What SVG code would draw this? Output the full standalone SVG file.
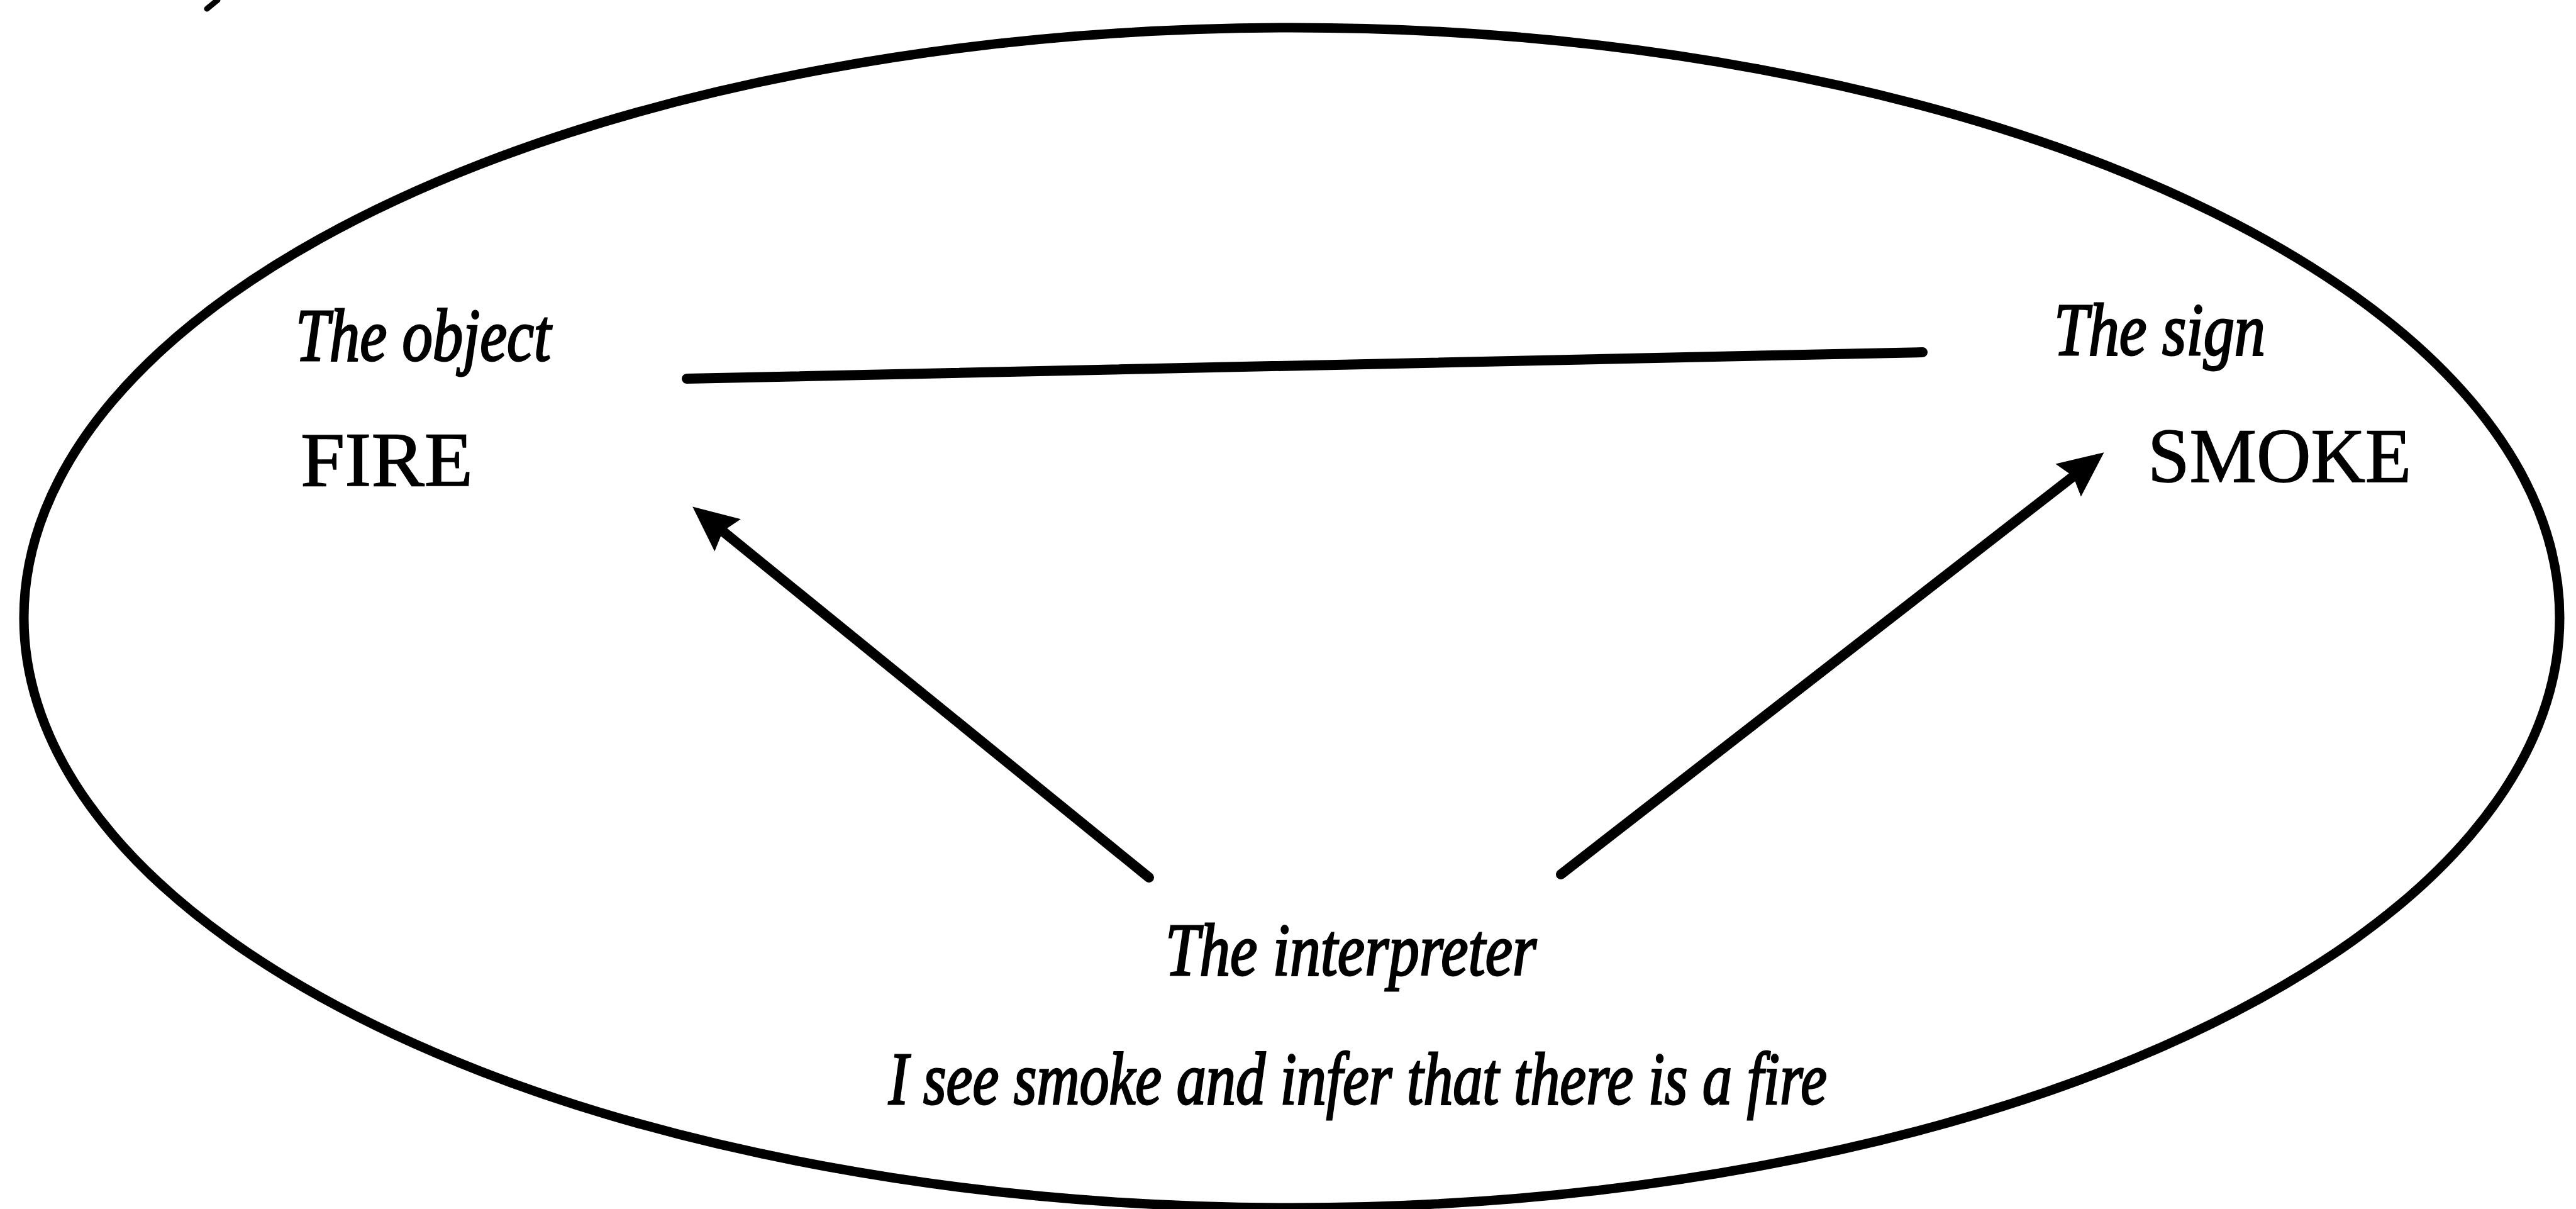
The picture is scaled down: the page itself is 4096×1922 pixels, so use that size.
<svg xmlns="http://www.w3.org/2000/svg" width="4096" height="1922" viewBox="0 0 4096 1922">
<style>
.ital{font-family:"Liberation Serif","Times New Roman",serif;font-style:italic;font-size:118px;fill:#000;stroke:#000;stroke-width:3}
.rom{font-family:"Liberation Serif","Times New Roman",serif;font-size:122px;fill:#000;stroke:#000;stroke-width:1.5}
.conn{stroke:#000;stroke-width:16;fill:none}
</style>
<defs>
<marker id="ah" markerUnits="userSpaceOnUse" markerWidth="80" markerHeight="72" viewBox="-25 -36 80 72" refX="0" refY="0" orient="auto">
<path d="M50,0 L-22,-33 L-12,0 L-22,33 Z" fill="#000"/>
</marker>
</defs>
<rect width="4096" height="1922" fill="#fff"/>
<g id="fragment"><path d="M346,0 L329,14" stroke="#000" stroke-width="9" stroke-linecap="round" fill="none"/></g>
<g id="frame"><ellipse cx="2054" cy="982" rx="2016" ry="938" fill="none" stroke="#000" stroke-width="15"/></g>
<g id="connectors">
<path class="conn" d="M1092,602 L3057,560" stroke-linecap="round"/>
<path class="conn" d="M1827,1395 L1140,837" stroke-linecap="round" marker-end="url(#ah)"/>
<path class="conn" d="M2482,1390 L3306,750" stroke-linecap="round" marker-end="url(#ah)"/>
</g>
<g id="object">
<text class="ital" x="470" y="573" textLength="406" lengthAdjust="spacingAndGlyphs">The object</text>
<text class="rom" x="478" y="772" textLength="274" lengthAdjust="spacingAndGlyphs">FIRE</text>
</g>
<g id="sign">
<text class="ital" x="3266" y="564" textLength="336" lengthAdjust="spacingAndGlyphs">The sign</text>
<text class="rom" x="3415" y="766" textLength="419" lengthAdjust="spacingAndGlyphs">SMOKE</text>
</g>
<g id="interpreter">
<text class="ital" x="1853" y="1550" textLength="590" lengthAdjust="spacingAndGlyphs">The interpreter</text>
<text class="ital" x="1413" y="1755" textLength="1492" lengthAdjust="spacingAndGlyphs">I see smoke and infer that there is a fire</text>
</g>
</svg>
